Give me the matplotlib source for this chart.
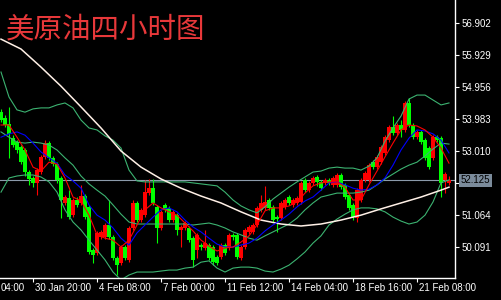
import numpy as np
import matplotlib
matplotlib.use("Agg")
import matplotlib.pyplot as plt

# 4 hour bars of US crude, oldest first (prices)
opens = [54.20, 54.02, 53.84, 53.41, 53.29, 53.14, 53.05, 52.38, 52.20, 52.05,
         52.38, 52.84, 53.26, 52.81, 52.62, 52.20, 51.44, 51.59, 51.07, 51.53,
         51.44, 51.65, 51.32, 50.01, 49.92, 50.41, 50.41, 50.77, 50.41, 49.77,
         49.61, 50.10, 49.71, 50.68, 51.44, 50.92, 51.07, 51.74, 51.89, 51.32,
         50.68, 51.38, 51.29, 50.92, 51.07, 50.62, 50.68, 50.68, 50.37, 50.01,
         50.16, 50.07, 50.16, 50.10, 49.80, 49.80, 50.16, 50.07, 50.47, 50.47,
         49.77, 50.10, 50.56, 50.56, 50.77, 51.23, 51.29, 51.53, 51.32, 51.01,
         50.98, 51.32, 51.62, 51.38, 51.44, 51.47, 52.14, 51.83, 52.05, 52.23,
         52.08, 52.05, 52.14, 51.99, 51.99, 52.29, 51.99, 51.68, 51.38, 50.98,
         51.53, 52.14, 52.14, 52.68, 52.53, 52.68, 52.96, 53.35, 53.75, 53.57,
         53.81, 53.66, 54.48, 53.81, 53.44, 53.60, 53.35, 53.11, 52.81, 53.44,
         53.41, 52.14, 52.05]
highs = [54.30, 54.11, 54.36, 53.50, 53.35, 53.20, 53.11, 52.44, 52.26, 52.50,
         52.90, 53.35, 53.32, 52.87, 52.68, 52.26, 51.68, 51.83, 51.59, 51.62,
         51.99, 51.71, 51.38, 50.07, 50.59, 50.62, 50.83, 51.53, 50.47, 49.83,
         50.16, 50.16, 50.74, 51.53, 51.50, 51.29, 52.14, 52.17, 52.17, 51.38,
         51.23, 51.44, 51.35, 51.23, 51.13, 50.77, 50.89, 50.74, 50.44, 50.53,
         50.22, 50.62, 50.22, 50.16, 49.86, 50.22, 50.22, 50.53, 50.53, 50.53,
         50.16, 50.68, 50.77, 50.83, 51.35, 51.68, 51.96, 51.59, 51.38, 51.07,
         51.50, 51.59, 51.68, 51.59, 51.65, 52.11, 52.20, 52.11, 52.26, 52.29,
         52.14, 52.20, 52.20, 52.26, 52.35, 52.35, 52.05, 51.74, 51.44, 51.89,
         52.20, 52.41, 52.66, 52.75, 52.90, 53.20, 53.50, 53.81, 54.08, 53.87,
         53.96, 54.54, 54.63, 53.87, 53.66, 53.66, 53.41, 53.17, 53.50, 53.50,
         53.47, 52.38, 52.26]
lows = [53.90, 53.75, 52.81, 53.14, 52.96, 52.62, 52.26, 51.99, 51.92, 51.68,
        52.32, 52.78, 52.75, 52.56, 52.05, 50.98, 51.38, 50.95, 51.01, 51.32,
        51.38, 50.95, 49.89, 49.61, 49.86, 50.34, 50.34, 50.34, 49.71, 49.25,
        49.55, 49.71, 49.64, 50.62, 50.86, 50.86, 51.01, 51.68, 51.38, 50.22,
        50.62, 51.17, 50.86, 50.86, 50.47, 50.10, 50.62, 50.25, 49.49, 49.77,
        50.01, 50.01, 49.71, 49.55, 49.55, 49.74, 49.86, 50.01, 50.31, 49.74,
        49.71, 50.04, 50.50, 50.50, 50.71, 51.17, 51.23, 51.23, 50.86, 50.56,
        50.92, 51.26, 51.38, 51.32, 51.38, 51.41, 51.77, 51.77, 51.99, 51.96,
        51.83, 51.99, 51.99, 51.92, 51.92, 51.86, 51.56, 51.23, 50.92, 50.86,
        51.47, 52.08, 52.08, 52.47, 52.47, 52.62, 52.90, 53.29, 53.50, 53.50,
        53.44, 53.60, 53.75, 53.38, 53.38, 53.23, 52.75, 52.47, 52.75, 53.29,
        51.62, 51.74, 51.99]
closes = [53.96, 53.81, 53.54, 53.20, 53.05, 52.68, 52.38, 52.17, 52.05, 52.44,
          52.84, 53.26, 52.81, 52.62, 52.14, 51.53, 51.62, 51.01, 51.53, 51.38,
          51.65, 51.01, 49.95, 49.86, 50.53, 50.56, 50.77, 50.41, 49.77, 49.55,
          50.10, 49.77, 50.68, 51.44, 50.92, 51.23, 51.77, 51.89, 51.44, 50.68,
          51.17, 51.23, 50.92, 51.17, 50.62, 50.71, 50.83, 50.31, 49.71, 50.47,
          50.10, 50.22, 49.77, 49.64, 49.61, 50.16, 49.92, 50.47, 50.41, 49.80,
          50.10, 50.62, 50.71, 50.77, 51.29, 51.44, 51.47, 51.29, 50.92, 50.95,
          51.44, 51.53, 51.44, 51.53, 51.59, 52.05, 51.83, 52.05, 52.20, 52.08,
          51.89, 52.14, 52.05, 52.20, 52.29, 51.92, 51.62, 51.29, 51.01, 51.83,
          52.14, 52.35, 52.59, 52.53, 52.84, 53.14, 53.44, 53.75, 53.57, 53.81,
          53.66, 54.48, 53.81, 53.44, 53.60, 53.29, 52.81, 52.53, 53.44, 53.35,
          52.05, 52.32, 52.125]
last_price = 52.125

# indicator lines, one point every 2 bars (bar 0, 2, ... 112)
ma5 = [53.81, 53.81, 53.44, 53.05, 52.53, 52.41, 52.68, 52.62, 52.20, 51.62,
       51.50, 51.07, 50.47, 50.37, 50.31, 50.10, 50.31, 50.77, 51.23, 51.44,
       51.29, 51.17, 51.07, 50.83, 50.59, 50.31, 50.13, 49.98, 50.07, 50.10,
       50.25, 50.44, 50.77, 51.20, 51.29, 51.29, 51.35, 51.47, 51.74, 51.96,
       52.05, 52.08, 52.08, 51.92, 51.53, 51.53, 51.99, 52.41, 52.84, 53.26,
       53.66, 53.81, 53.78, 53.66, 53.44, 53.11, 52.65]
ma10 = [53.44, 53.54, 53.60, 53.50, 53.26, 52.99, 52.81, 52.65, 52.29, 52.11,
        51.89, 51.38, 51.07, 50.92, 50.68, 50.37, 50.16, 50.53, 50.77, 51.01,
        51.23, 51.29, 51.17, 50.92, 50.71, 50.56, 50.37, 50.19, 50.10, 50.10,
        50.16, 50.22, 50.37, 50.59, 50.77, 50.92, 51.10, 51.32, 51.50, 51.62,
        51.83, 52.05, 52.08, 51.99, 51.89, 51.83, 51.86, 51.99, 52.20, 52.59,
        53.05, 53.41, 53.66, 53.63, 53.54, 53.35, 52.96]
bb_upper = [55.42, 54.66, 54.27, 54.20, 54.30, 54.33, 54.33, 54.42, 54.48, 54.33,
            53.96, 53.72, 53.66, 53.48, 53.35, 53.11, 52.44, 52.11, 52.08, 52.08,
            52.08, 52.08, 52.08, 52.08, 52.05, 52.02, 51.99, 51.96, 51.77, 51.53,
            51.35, 51.23, 51.14, 51.32, 51.56, 51.74, 51.92, 52.08, 52.23, 52.38,
            52.41, 52.50, 52.53, 52.50, 52.50, 52.44, 52.56, 52.81, 53.32, 53.72,
            54.08, 54.60, 54.72, 54.72, 54.57, 54.42, 54.48]
bb_mid = [53.60, 53.44, 53.29, 53.26, 53.29, 53.26, 53.20, 53.05, 52.81, 52.59,
          52.26, 52.02, 51.83, 51.65, 51.38, 51.10, 50.86, 50.80, 50.80, 50.80,
          50.80, 50.80, 50.80, 50.80, 50.77, 50.80, 50.83, 50.77, 50.68, 50.56,
          50.47, 50.37, 50.31, 50.44, 50.56, 50.68, 50.80, 50.98, 51.23, 51.44,
          51.62, 51.68, 51.74, 51.74, 51.74, 51.77, 51.83, 51.99, 52.17, 52.32,
          52.47, 52.59, 52.68, 52.87, 53.08, 53.26, 53.23]
bb_lower = [51.77, 52.20, 52.26, 52.29, 52.29, 52.23, 52.08, 51.77, 51.23, 50.86,
            50.62, 50.31, 50.01, 49.71, 49.34, 49.10, 49.25, 49.34, 49.34, 49.34,
            49.37, 49.40, 49.40, 49.46, 49.49, 49.64, 49.68, 49.46, 49.34, 49.46,
            49.49, 49.49, 49.46, 49.37, 49.34, 49.43, 49.55, 49.74, 49.95, 50.22,
            50.44, 50.77, 50.95, 51.10, 51.23, 51.29, 51.29, 51.26, 51.17, 51.01,
            50.89, 50.80, 50.86, 51.07, 51.47, 52.05, 52.14]
# long moving average, one point every 5 bars plus the last bar
ma_long_bars = [0, 5, 10, 15, 20, 25, 30, 35, 40, 45, 50, 55, 60, 65, 70, 75,
                80, 85, 90, 95, 100, 105, 110, 112]
ma_long = [56.42, 56.12, 55.57, 54.99, 54.36, 53.72, 53.02, 52.53, 52.17, 51.89,
           51.65, 51.44, 51.17, 50.92, 50.80, 50.74, 50.80, 50.92, 51.07, 51.26,
           51.44, 51.62, 51.83, 51.92]

price_ticks = [56.902, 55.929, 54.956, 53.983, 53.010, 52.037, 51.064, 50.091]
time_ticks = [8, 24, 40, 56, 72, 88, 104]
time_labels = ["30 Jan 20:00", "4 Feb 08:00", "7 Feb 00:00", "11 Feb 12:00",
               "14 Feb 04:00", "18 Feb 16:00", "21 Feb 08:00"]
first_label = "04:00"   # tail of the label cut off at the left edge

plt.rcParams["font.family"] = ["Liberation Sans", "DejaVu Sans"]

fig = plt.figure(figsize=(5.01, 3.0), dpi=100, facecolor="black")
ax = fig.add_axes([0, 22 / 300, 455 / 501, 278 / 300], facecolor="black")

o = np.array(opens)
h = np.array(highs)
l = np.array(lows)
c = np.array(closes)
bars = np.arange(len(c))
col = np.where(c > o, "#ff0000", "#00ff00")   # red = up, green = down

ax.vlines(bars, l, h, colors=col, linewidth=0.8, zorder=2)
body = np.maximum(np.abs(c - o), 0.025)
ax.bar(bars, body, bottom=np.minimum(o, c), width=0.8, color=col,
       linewidth=0, zorder=3)

half = bars[::2]
ax.plot(half, bb_upper, color="#3cb371", lw=0.8, zorder=4)
ax.plot(half, bb_mid, color="#3cb371", lw=0.8, zorder=4)
ax.plot(half, bb_lower, color="#3cb371", lw=0.8, zorder=4)
ax.plot(ma_long_bars, ma_long, color="#fff0e6", lw=1.1, zorder=4)
ax.plot(half, ma10, color="#0000ff", lw=0.8, zorder=5)
ax.plot(half, ma5, color="#ff0000", lw=0.8, zorder=5)

ax.axhline(last_price, color="#8c9bab", lw=0.8, zorder=1)

ax.set_xlim(-0.25, 113.5)
ax.set_ylim(49.159, 57.610)

for s in ["left", "top"]:
    ax.spines[s].set_visible(False)
for s in ["right", "bottom"]:
    ax.spines[s].set_color("white")
    ax.spines[s].set_linewidth(1)

# the 52.037 label sits under the price tag, so only its tick is drawn
ax.yaxis.tick_right()
ax.set_yticks(price_ticks)
ax.set_yticklabels(["" if abs(v - 52.037) < 1e-6 else f"{v:.3f}"
                    for v in price_ticks])
ax.tick_params(axis="y", colors="white", length=3, width=0.8, pad=1.5,
               labelsize=7)

ax.set_xticks(time_ticks)
ax.set_xticklabels([])
ax.tick_params(axis="x", colors="white", length=3, width=0.8)
for t, lab in zip(time_ticks, time_labels):
    ax.annotate(lab, xy=(t, 0), xycoords=("data", "axes fraction"),
                xytext=(1.2, -3.5), textcoords="offset points",
                ha="left", va="top", color="white", fontsize=7,
                annotation_clip=False)
ax.annotate(first_label, xy=(0, 0), xycoords="axes fraction",
            xytext=(0.3, -3.5), textcoords="offset points",
            ha="left", va="top", color="white", fontsize=7,
            annotation_clip=False)

# current price tag on the price scale
ax.annotate(f"{last_price:.3f}", xy=(1, last_price),
            xycoords=("axes fraction", "data"), xytext=(4.3, 0),
            textcoords="offset points", ha="left", va="center",
            color="black", fontsize=7, zorder=10, annotation_clip=False,
            bbox=dict(boxstyle="square,pad=0.18", fc="#7b8b9b", ec="none"))

fig.text(6 / 501, 1 - 29 / 300, "美原油四小时图", color="#e8383a",
         fontsize=20.5, family=["Noto Sans CJK SC", "DejaVu Sans"],
         va="center", ha="left")

fig.savefig("out.png", dpi=100, facecolor="black")
